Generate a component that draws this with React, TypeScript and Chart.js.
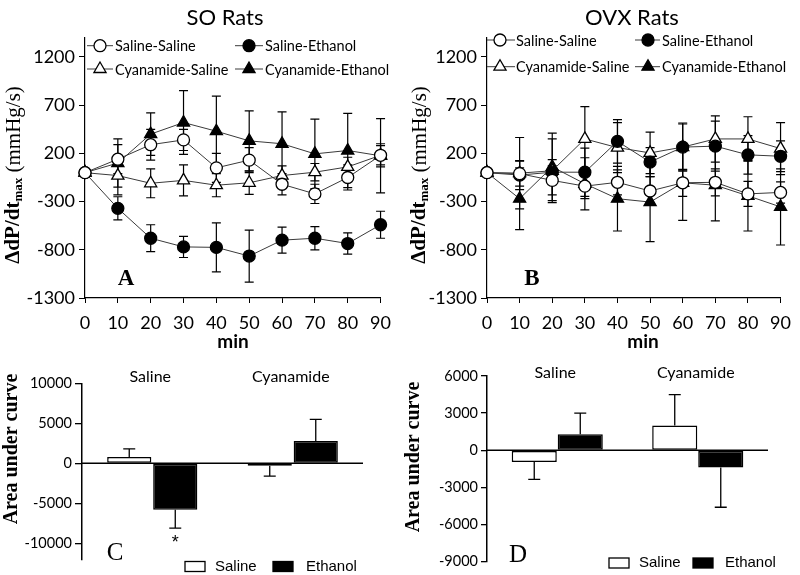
import React, { useEffect, useRef } from 'react';
import { Chart, registerables } from 'chart.js';

Chart.register(...registerables);

// ---------- DATA ----------
const minutes = [0, 10, 20, 30, 40, 50, 60, 70, 80, 90];
const lineYTicks = [-1300, -800, -300, 200, 700, 1200];

// SO rats (panel A)
const soSalineSaline = [0, 140, 290, 340, 50, 130, -120, -220, -50, 180];
const soSalineSalineErr = [0, 150, 160, 110, 150, 130, 110, 100, 130, 100];
const soSalineEthanol = [0, -370, -680, -770, -775, -865, -700, -680, -735, -540];
const soSalineEthanolErr = [0, 120, 140, 110, 255, 270, 135, 120, 110, 140];
const soCyanSaline = [0, -30, -110, -80, -130, -105, -30, 5, 60, 180];
const soCyanSalineErr = [0, 200, 150, 160, 120, 120, 100, 90, 100, 120];
const soCyanEthanol = [0, 100, 400, 520, 430, 330, 300, 195, 230, 175];
const soCyanEthanolErr = [0, 250, 220, 330, 365, 310, 330, 360, 385, 385];

// OVX rats (panel B)
const ovSalineSaline = [0, -10, -80, -140, -100, -190, -105, -100, -220, -205];
const ovSalineSalineErr = [0, 130, 150, 130, 130, 150, 140, 140, 130, 110];
const ovSalineEthanol = [0, -25, 5, 5, 325, 110, 265, 275, 185, 170];
const ovSalineEthanolErr = [0, 150, 130, 250, 225, 150, 240, 260, 200, 160];
const ovCyanSaline = [0, -5, 20, 350, 260, 205, 265, 350, 350, 250];
const ovCyanSalineErr = [0, 370, 330, 335, 260, 215, 250, 240, 230, 270];
const ovCyanEthanol = [0, -270, 60, -115, -270, -305, -105, -130, -240, -355];
const ovCyanEthanolErr = [0, 320, 350, 270, 335, 410, 390, 370, 365, 395];

const seriesLabels = ['Saline-Saline', 'Saline-Ethanol', 'Cyanamide-Saline', 'Cyanamide-Ethanol'];

// Area under curve (panels C, D)
const groups = ['Saline', 'Cyanamide'];
const barLegend = ['Saline', 'Ethanol'];
const soAucSaline = [800, -300];
const soAucSalineErr = [1000, 1300];
const soAucEthanol = [-5800, 2800];
const soAucEthanolErr = [2300, 2700];
const soAucSig = ['*', ''];
const soAucTicks = [-10000, -5000, 0, 5000, 10000];

const ovAucSaline = [-950, 2000];
const ovAucSalineErr = [1400, 2500];
const ovAucEthanol = [1300, -1400];
const ovAucEthanolErr = [1700, 3200];
const ovAucSig = ['', ''];
const ovAucTicks = [-9000, -6000, -3000, 0, 3000, 6000];

// ---------- HELPERS ----------
const SANS = 'Lato, "Open Sans", sans-serif';
const ARIAL = '"Liberation Sans", Arial, sans-serif';
const SERIF = '"Liberation Serif", "Times New Roman", serif';

type MarkerStyle = 'circle' | 'triangle';
const markerStyles: MarkerStyle[] = ['circle', 'circle', 'triangle', 'triangle'];
const markerFilled = [false, true, false, true];

function drawMarker(ctx: CanvasRenderingContext2D, style: MarkerStyle, filled: boolean, x: number, y: number) {
  ctx.beginPath();
  if (style === 'circle') {
    ctx.arc(x, y, 6, 0, Math.PI * 2);
  } else {
    const r = 7;
    for (let k = 0; k < 3; k++) {
      const a = (k * 2 * Math.PI) / 3;
      const px = x + Math.sin(a) * r;
      const py = y - Math.cos(a) * r;
      if (k === 0) ctx.moveTo(px, py);
      else ctx.lineTo(px, py);
    }
  }
  ctx.closePath();
  ctx.fillStyle = filled ? '#000' : '#fff';
  ctx.fill();
  ctx.lineWidth = 1.3;
  ctx.strokeStyle = '#000';
  ctx.stroke();
}

type Part = { text: string; font: string; dy: number };
function drawRotated(ctx: CanvasRenderingContext2D, cx: number, cy: number, parts: Part[]) {
  ctx.save();
  ctx.translate(cx, cy);
  ctx.rotate(-Math.PI / 2);
  ctx.textBaseline = 'middle';
  ctx.textAlign = 'left';
  ctx.fillStyle = '#000';
  let total = 0;
  for (const p of parts) {
    ctx.font = p.font;
    total += ctx.measureText(p.text).width;
  }
  let x = -total / 2;
  for (const p of parts) {
    ctx.font = p.font;
    ctx.fillText(p.text, x, p.dy);
    x += ctx.measureText(p.text).width;
  }
  ctx.restore();
}

const plain = (v: any) => String(v);

// ---------- LINE PANEL ----------
type LinePanelProps = {
  left: number;
  title: string;
  titleX: number;
  letter: string;
  letterX: number;
  minX: number;
  yTitleX: number;
  padRight: number;
  yAxisWidth: number;
  legendRows: number[];
  legendCols: { x0: number; x1: number; mx: number; tx: number }[];
  values: number[][];
  errors: number[][];
};

function LinePanel(p: LinePanelProps) {
  const ref = useRef<HTMLCanvasElement>(null);
  useEffect(() => {
    if (!ref.current) return;
    const overlay = {
      id: 'overlay',
      beforeDatasetsDraw(chart: any) {
        const ctx = chart.ctx as CanvasRenderingContext2D;
        const ys = chart.scales.y;
        ctx.save();
        ctx.strokeStyle = '#000';
        ctx.lineWidth = 1.2;
        p.values.forEach((vals, i) => {
          const meta = chart.getDatasetMeta(i);
          vals.forEach((v, j) => {
            const e = p.errors[i][j];
            if (!e) return;
            const x = meta.data[j].x;
            const yt = ys.getPixelForValue(v + e);
            const yb = ys.getPixelForValue(v - e);
            ctx.beginPath();
            ctx.moveTo(x, yt);
            ctx.lineTo(x, yb);
            ctx.moveTo(x - 4.5, yt);
            ctx.lineTo(x + 4.5, yt);
            ctx.moveTo(x - 4.5, yb);
            ctx.lineTo(x + 4.5, yb);
            ctx.stroke();
          });
        });
        ctx.restore();
      },
      afterDraw(chart: any) {
        const ctx = chart.ctx as CanvasRenderingContext2D;
        ctx.save();
        ctx.fillStyle = '#000';
        // title
        ctx.font = `22px ${SANS}`;
        ctx.textAlign = 'center';
        ctx.textBaseline = 'middle';
        ctx.fillText(p.title, p.titleX, 18);
        // x title
        ctx.font = `bold 19px ${SANS}`;
        ctx.fillText('min', p.minX, 342);
        // letter
        ctx.font = `bold 23px ${SERIF}`;
        ctx.fillText(p.letter, p.letterX, 279);
        // legend
        seriesLabels.forEach((lab, i) => {
          const row = p.legendRows[Math.floor(i / 2)];
          const col = p.legendCols[i % 2];
          ctx.strokeStyle = '#3a3a3a';
          ctx.lineWidth = 1;
          ctx.beginPath();
          ctx.moveTo(col.x0, row);
          ctx.lineTo(col.x1, row);
          ctx.stroke();
          drawMarker(ctx, markerStyles[i], markerFilled[i], col.mx, row);
          ctx.fillStyle = '#000';
          ctx.font = `14.5px ${SANS}`;
          ctx.textAlign = 'left';
          ctx.textBaseline = 'middle';
          ctx.fillText(lab, col.tx, row + 1);
        });
        ctx.restore();
        drawRotated(ctx, p.yTitleX, 175, [
          { text: '\u0394dP/dt', font: `bold 21px ${SERIF}`, dy: 0 },
          { text: 'max', font: `bold 13px ${SERIF}`, dy: 5 },
          { text: ' (mmHg/s)', font: `21px ${SERIF}`, dy: 0 },
        ]);
      },
    };

    const chart = new Chart(ref.current, {
      type: 'line',
      data: {
        datasets: p.values.map((vals, i) => ({
          label: seriesLabels[i],
          data: minutes.map((m, j) => ({ x: m, y: vals[j] })),
          borderColor: '#3a3a3a',
          borderWidth: 1,
          pointStyle: markerStyles[i],
          pointRadius: markerStyles[i] === 'circle' ? 6 : 7,
          pointBackgroundColor: markerFilled[i] ? '#000' : '#fff',
          pointBorderColor: '#000',
          pointBorderWidth: 1.3,
          fill: false,
          tension: 0,
          clip: false as any,
        })),
      },
      options: {
        responsive: false,
        animation: false,
        events: [],
        layout: { padding: { left: 0, right: p.padRight, top: 37.7, bottom: 0 } },
        plugins: { legend: { display: false }, tooltip: { enabled: false }, title: { display: false } },
        scales: {
          x: {
            type: 'linear',
            min: 0,
            max: 90,
            ticks: { stepSize: 10, font: { family: SANS, size: 18 }, color: '#000', padding: 9, maxRotation: 0, autoSkip: false, callback: plain },
            grid: { drawOnChartArea: false, drawTicks: true, tickLength: 5, color: '#000' },
            border: { color: '#000', width: 1.2 },
            afterFit: (s: any) => {
              s.height = 52;
            },
          },
          y: {
            type: 'linear',
            min: -1300,
            max: 1400,
            afterBuildTicks: (s: any) => {
              s.ticks = lineYTicks.map((v) => ({ value: v }));
            },
            ticks: { font: { family: SANS, size: 18 }, color: '#000', padding: 4, callback: plain },
            grid: { drawOnChartArea: false, drawTicks: true, tickLength: 6, color: '#000' },
            border: { color: '#000', width: 1.2 },
            afterFit: (s: any) => {
              s.width = p.yAxisWidth;
            },
          },
        },
      },
      plugins: [overlay],
    } as any);
    return () => chart.destroy();
  }, []);
  return <canvas ref={ref} width={400} height={350} style={{ position: 'absolute', left: p.left, top: 0 }} />;
}

// ---------- BAR PANEL ----------
type BarPanelProps = {
  left: number;
  top: number;
  saline: number[];
  salineErr: number[];
  ethanol: number[];
  ethanolErr: number[];
  sig: string[];
  ticks: number[];
  min: number;
  max: number;
  yAxisWidth: number;
  tickLength: number;
  padding: { left: number; right: number; top: number; bottom: number };
  barPercentage: number;
  groupLabelY: number;
  yTitle: { x: number; y: number };
  letter: string;
  letterPos: { x: number; y: number };
  legend: { y: number; r1: number; t1: number; r2: number; t2: number };
};

function BarPanel(p: BarPanelProps) {
  const ref = useRef<HTMLCanvasElement>(null);
  useEffect(() => {
    if (!ref.current) return;
    const errs = [p.salineErr, p.ethanolErr];
    const vals = [p.saline, p.ethanol];
    const overlay = {
      id: 'baroverlay',
      afterDatasetsDraw(chart: any) {
        const ctx = chart.ctx as CanvasRenderingContext2D;
        const ys = chart.scales.y;
        const xs = chart.scales.x;
        const area = chart.chartArea;
        ctx.save();
        ctx.strokeStyle = '#000';
        ctx.lineWidth = 1.3;
        vals.forEach((vs, i) => {
          const meta = chart.getDatasetMeta(i);
          vs.forEach((v, j) => {
            const e = errs[i][j];
            const x = meta.data[j].x;
            const y0 = ys.getPixelForValue(v);
            const end = v >= 0 ? v + e : v - e;
            const y1 = ys.getPixelForValue(end);
            ctx.beginPath();
            ctx.moveTo(x, y0);
            ctx.lineTo(x, y1);
            ctx.moveTo(x - 6, y1);
            ctx.lineTo(x + 6, y1);
            ctx.stroke();
            if (i === 1 && p.sig[j]) {
              ctx.fillStyle = '#000';
              ctx.font = `18px ${ARIAL}`;
              ctx.textAlign = 'center';
              ctx.textBaseline = 'top';
              ctx.fillText(p.sig[j], x, y1 + 6);
            }
          });
        });
        // zero line
        const yz = ys.getPixelForValue(0);
        ctx.lineWidth = 1.5;
        ctx.beginPath();
        ctx.moveTo(area.left, yz);
        ctx.lineTo(area.right, yz);
        ctx.stroke();
        // group labels
        ctx.fillStyle = '#000';
        ctx.font = `16px ${SANS}`;
        ctx.textAlign = 'center';
        ctx.textBaseline = 'middle';
        groups.forEach((g, j) => {
          ctx.fillText(g, xs.getPixelForValue(j) - 2, p.groupLabelY);
        });
        // letter
        ctx.font = `25px ${SERIF}`;
        ctx.fillText(p.letter, p.letterPos.x, p.letterPos.y);
        // legend
        const L = p.legend;
        ctx.lineWidth = 1.3;
        ctx.fillStyle = '#fff';
        ctx.fillRect(L.r1, L.y - 5, 20, 10);
        ctx.strokeRect(L.r1, L.y - 5, 20, 10);
        ctx.fillStyle = '#000';
        ctx.fillRect(L.r2, L.y - 5, 20, 10);
        ctx.strokeRect(L.r2, L.y - 5, 20, 10);
        ctx.font = `15px ${ARIAL}`;
        ctx.textAlign = 'left';
        ctx.fillText(barLegend[0], L.t1, L.y);
        ctx.fillText(barLegend[1], L.t2, L.y);
        ctx.restore();
        drawRotated(ctx, p.yTitle.x, p.yTitle.y, [{ text: 'Area under curve', font: `bold 20px ${SERIF}`, dy: 0 }]);
      },
    };

    const chart = new Chart(ref.current, {
      type: 'bar',
      data: {
        labels: groups,
        datasets: [
          { label: barLegend[0], data: p.saline, backgroundColor: '#fff', borderColor: '#000', borderWidth: 1.5, borderSkipped: false },
          { label: barLegend[1], data: p.ethanol, backgroundColor: '#000', borderColor: '#000', borderWidth: 1.5, borderSkipped: false },
        ],
      },
      options: {
        responsive: false,
        animation: false,
        events: [],
        categoryPercentage: 0.655,
        barPercentage: p.barPercentage,
        layout: { padding: p.padding },
        plugins: { legend: { display: false }, tooltip: { enabled: false }, title: { display: false } },
        scales: {
          x: { display: false },
          y: {
            min: p.min,
            max: p.max,
            afterBuildTicks: (s: any) => {
              s.ticks = p.ticks.map((v) => ({ value: v }));
            },
            ticks: { font: { family: SANS, size: 14.5 }, color: '#000', padding: 3, callback: plain },
            grid: { drawOnChartArea: false, drawTicks: true, tickLength: p.tickLength, color: '#000', lineWidth: 1.3 },
            border: { color: '#000', width: 1.5 },
            afterFit: (s: any) => {
              s.width = p.yAxisWidth;
            },
          },
        },
      },
      plugins: [overlay],
    } as any);
    return () => chart.destroy();
  }, []);
  return <canvas ref={ref} width={400} height={225} style={{ position: 'absolute', left: p.left, top: p.top }} />;
}

export default function App() {
  return (
    <div style={{ position: 'absolute', left: 0, top: 0, width: 800, height: 575, background: '#fff', overflow: 'hidden' }}>
      <LinePanel
        left={0}
        title="SO Rats"
        titleX={225}
        letter="A"
        letterX={126}
        minX={233}
        yTitleX={14}
        padRight={17}
        yAxisWidth={85}
        legendRows={[45.7, 69]}
        legendCols={[
          { x0: 87, x1: 113, mx: 100, tx: 115 },
          { x0: 235, x1: 263, mx: 249, tx: 265 },
        ]}
        values={[soSalineSaline, soSalineEthanol, soCyanSaline, soCyanEthanol]}
        errors={[soSalineSalineErr, soSalineEthanolErr, soCyanSalineErr, soCyanEthanolErr]}
      />
      <LinePanel
        left={400}
        title="OVX Rats"
        titleX={232}
        letter="B"
        letterX={132}
        minX={243}
        yTitleX={20}
        padRight={11}
        yAxisWidth={87}
        legendRows={[40, 66.7]}
        legendCols={[
          { x0: 87, x1: 115, mx: 100, tx: 116 },
          { x0: 235, x1: 260, mx: 248, tx: 262 },
        ]}
        values={[ovSalineSaline, ovSalineEthanol, ovCyanSaline, ovCyanEthanol]}
        errors={[ovSalineSalineErr, ovSalineEthanolErr, ovCyanSalineErr, ovCyanEthanolErr]}
      />
      <BarPanel
        left={0}
        top={350}
        saline={soAucSaline}
        salineErr={soAucSalineErr}
        ethanol={soAucEthanol}
        ethanolErr={soAucEthanolErr}
        sig={soAucSig}
        ticks={soAucTicks}
        min={-12000}
        max={10000}
        yAxisWidth={82}
        tickLength={7}
        padding={{ left: 0, right: 37, top: 33.3, bottom: 15.7 }}
        barPercentage={0.96}
        groupLabelY={27}
        yTitle={{ x: 12, y: 99 }}
        letter="C"
        letterPos={{ x: 115, y: 203 }}
        legend={{ y: 216.5, r1: 185, t1: 215, r2: 273, t2: 306 }}
      />
      <BarPanel
        left={400}
        top={350}
        saline={ovAucSaline}
        salineErr={ovAucSalineErr}
        ethanol={ovAucEthanol}
        ethanolErr={ovAucEthanolErr}
        sig={ovAucSig}
        ticks={ovAucTicks}
        min={-9000}
        max={6000}
        yAxisWidth={87}
        tickLength={6}
        padding={{ left: 0, right: 32, top: 26, bottom: 13.3 }}
        barPercentage={0.98}
        groupLabelY={23}
        yTitle={{ x: 14, y: 107 }}
        letter="D"
        letterPos={{ x: 118, y: 205 }}
        legend={{ y: 213, r1: 209, t1: 239, r2: 293, t2: 325 }}
      />
    </div>
  );
}
